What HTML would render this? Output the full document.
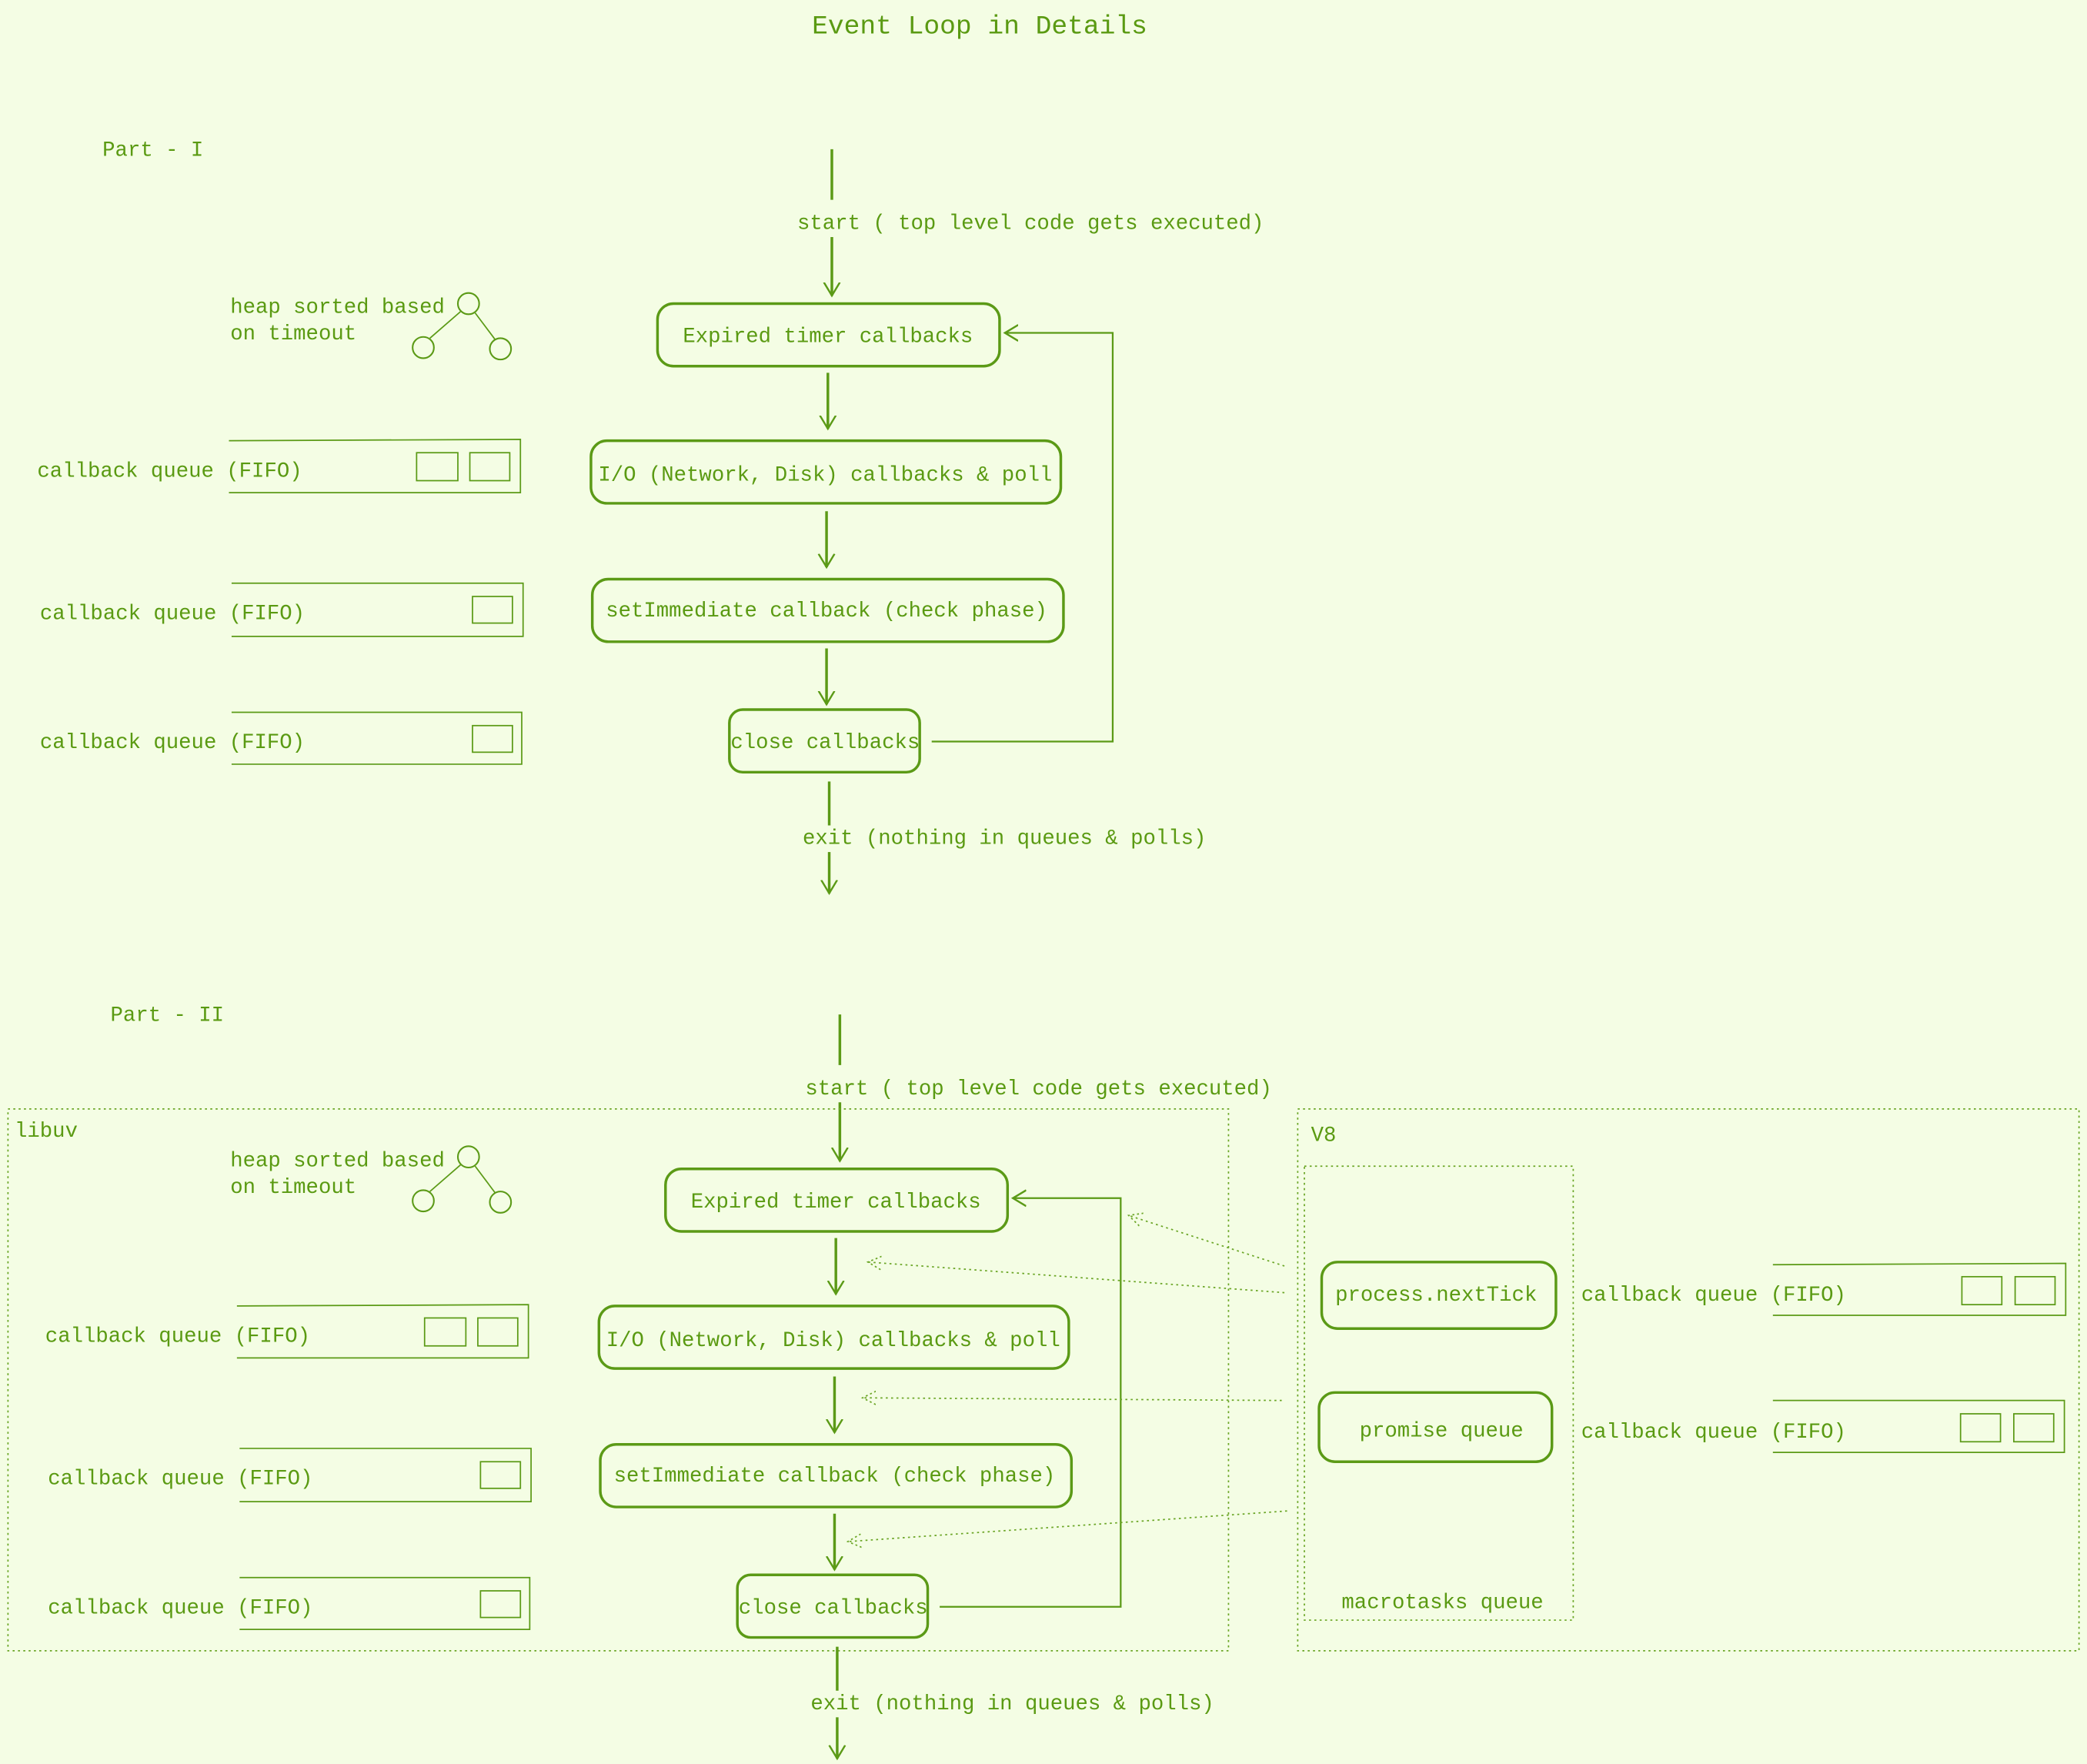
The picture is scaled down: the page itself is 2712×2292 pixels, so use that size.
<!DOCTYPE html>
<html><head><meta charset="utf-8"><style>
html,body{margin:0;padding:0;background:#f4fde4;}
svg{display:block}
text{font-family:"Liberation Mono","DejaVu Sans Mono",monospace;fill:#5a9a12;font-size:15.8px}
</style></head><body>
<svg width="2712" height="2292" viewBox="0 0 1568 1325" xmlns="http://www.w3.org/2000/svg">
<defs>
<marker id="a" markerWidth="20" markerHeight="20" refX="10" refY="10" orient="auto" markerUnits="userSpaceOnUse">
<path d="M0,4 L10,10 L0,16" fill="none" stroke="#5b9a16" stroke-width="1.4"/></marker>
<marker id="d" markerWidth="20" markerHeight="20" refX="10" refY="10" orient="auto" markerUnits="userSpaceOnUse">
<path d="M0,5 L10,10 L0,15" fill="none" stroke="#6aa525" stroke-width="1" stroke-dasharray="1.5 2"/></marker>
<g id="flow" stroke="#5b9a16" fill="none">
<line x1="625" y1="112" x2="625" y2="150" stroke-width="2"/>
<line x1="625" y1="178" x2="625" y2="222" stroke-width="2" marker-end="url(#a)"/>
<rect x="494" y="228" width="257" height="47" rx="12" stroke-width="2"/>
<line x1="622" y1="280" x2="622" y2="322" stroke-width="2" marker-end="url(#a)"/>
<rect x="444" y="331" width="353" height="47" rx="12" stroke-width="2"/>
<line x1="621" y1="384" x2="621" y2="426" stroke-width="2" marker-end="url(#a)"/>
<rect x="445" y="435" width="354" height="47" rx="12" stroke-width="2"/>
<line x1="621" y1="487" x2="621" y2="529" stroke-width="2" marker-end="url(#a)"/>
<rect x="548" y="533" width="143" height="47" rx="10" stroke-width="2"/>
<polyline points="700,557 836,557 836,250 755,250" stroke-width="1.3" marker-end="url(#a)"/>
<line x1="623" y1="587" x2="623" y2="620" stroke-width="2"/>
<line x1="623" y1="640" x2="623" y2="671" stroke-width="2" marker-end="url(#a)"/>
<polyline points="172,331 391,330 391,370 172,370" stroke-width="1"/>
<rect x="313" y="340" width="31" height="21" stroke-width="1"/>
<rect x="353" y="340" width="30" height="21" stroke-width="1"/>
<polyline points="174,438 393,438 393,478 174,478" stroke-width="1"/>
<rect x="355" y="448" width="30" height="20" stroke-width="1"/>
<polyline points="174,535 392,535 392,574 174,574" stroke-width="1"/>
<rect x="355" y="545" width="30" height="20" stroke-width="1"/>
</g>
<g id="heap">
<g stroke="#5b9a16" fill="none">
<circle cx="352" cy="228" r="8" stroke-width="1.2"/>
<circle cx="318" cy="261" r="8" stroke-width="1.2"/>
<circle cx="376" cy="262" r="8" stroke-width="1.2"/>
<line x1="346" y1="234" x2="323" y2="254" stroke-width="1"/>
<line x1="357" y1="235" x2="372" y2="255" stroke-width="1"/>
</g>
<text x="173" y="235">heap sorted based</text>
<text x="173" y="255">on timeout</text>
</g>
<g id="flowt">
<text x="599" y="172">start ( top level code gets executed)</text>
<text x="622" y="257" text-anchor="middle">Expired timer callbacks</text>
<text x="620" y="361" text-anchor="middle">I/O (Network, Disk) callbacks &amp; poll</text>
<text x="621" y="463" text-anchor="middle">setImmediate callback (check phase)</text>
<text x="620" y="562" text-anchor="middle">close callbacks</text>
<text x="603" y="634">exit (nothing in queues &amp; polls)</text>
<text x="28" y="358">callback queue (FIFO)</text>
<text x="30" y="465">callback queue (FIFO)</text>
<text x="30" y="562">callback queue (FIFO)</text>
</g>
</defs>
<rect width="1568" height="1325" fill="#f4fde4"/>
<text x="736" y="25" text-anchor="middle" style="font-size:20px">Event Loop in Details</text>
<text x="77" y="117">Part - I</text>
<text x="83" y="767">Part - II</text>
<use href="#flow"/><use href="#flowt"/><use href="#heap"/>
<g transform="translate(6,650)"><use href="#flow"/><use href="#flowt"/></g>
<g transform="translate(0,641)"><use href="#heap"/></g>
<g fill="none" stroke="#6aa525" stroke-width="1" stroke-dasharray="1.5 2.5">
<rect x="6" y="833" width="917" height="407"/>
<rect x="975" y="833" width="587" height="407"/>
<rect x="980" y="876" width="202" height="341"/>
<line x1="965" y1="951" x2="848" y2="913" marker-end="url(#d)"/>
<line x1="965" y1="971" x2="652" y2="948" marker-end="url(#d)"/>
<line x1="963" y1="1052" x2="648" y2="1050" marker-end="url(#d)"/>
<line x1="967" y1="1135" x2="637" y2="1158" marker-end="url(#d)"/>
</g>
<g fill="none" stroke="#5b9a16">
<rect x="993" y="948" width="176" height="50" rx="12" stroke-width="2"/>
<rect x="991" y="1046" width="175" height="52" rx="12" stroke-width="2"/>
<polyline points="1332,950 1552,949 1552,988 1332,988" stroke-width="1"/>
<rect x="1474" y="959" width="30" height="21" stroke-width="1"/>
<rect x="1514" y="959" width="30" height="21" stroke-width="1"/>
<polyline points="1332,1052 1551,1052 1551,1091 1332,1091" stroke-width="1"/>
<rect x="1473" y="1062" width="30" height="21" stroke-width="1"/>
<rect x="1513" y="1062" width="30" height="21" stroke-width="1"/>
</g>
<text x="11" y="854">libuv</text>
<text x="985" y="857">V8</text>
<text x="1008" y="1208">macrotasks queue</text>
<text x="1079" y="977" text-anchor="middle">process.nextTick</text>
<text x="1083" y="1079" text-anchor="middle">promise queue</text>
<text x="1188" y="977">callback queue (FIFO)</text>
<text x="1188" y="1080">callback queue (FIFO)</text>
</svg>
</body></html>
